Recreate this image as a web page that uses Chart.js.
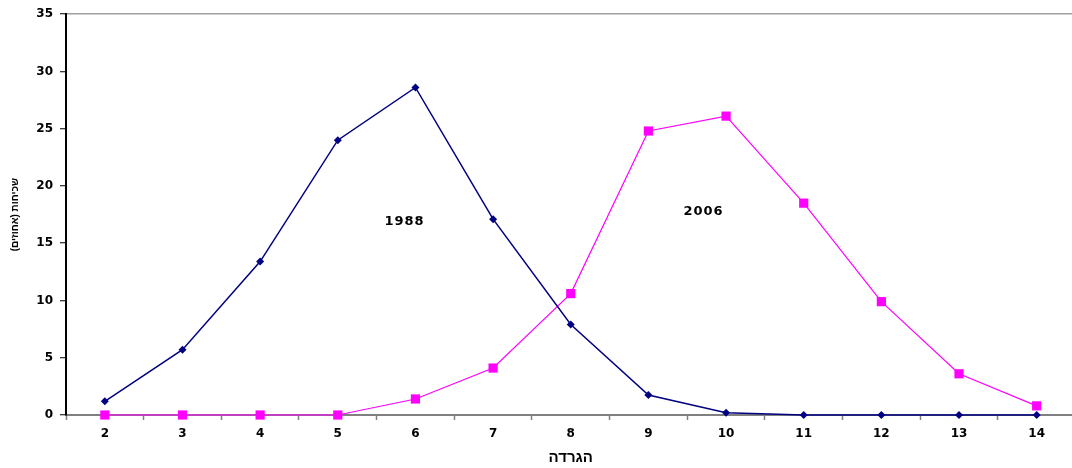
<!DOCTYPE html>
<html>
<head>
<meta charset="utf-8">
<script src="https://cdn.jsdelivr.net/npm/chart.js@4/dist/chart.umd.min.js"></script>
<style>
  html, body { margin: 0; padding: 0; background: #fff; overflow: hidden; }
  #wrap { width: 1082px; height: 468px; position: relative; }
</style>
</head>
<body>
<div id="wrap"><canvas id="c" width="1082" height="468"></canvas></div>
<script>
const categories = ['2','3','4','5','6','7','8','9','10','11','12','13','14'];
const series1988 = [1.2, 5.7, 13.4, 24.0, 28.6, 17.1, 7.9, 1.75, 0.2, 0, 0, 0, 0];
const series2006 = [0, 0, 0, 0, 1.4, 4.1, 10.6, 24.8, 26.1, 18.5, 9.9, 3.6, 0.8];
const yTicks = [0, 5, 10, 15, 20, 25, 30, 35];
const annotationText = ['1988', '2006'];
const annotationCat = [5.86, 9.71];   // position in category units (x values)
const annotationVal = [16.9, 17.8];
const yTitle = 'שכיחות (אחוזים)';
const xTitle = 'הדרגה';

const FONT = "'Liberation Sans', Arial, sans-serif";
const WIDE = "'DejaVu Sans', 'Liberation Sans', sans-serif";

const annotationPlugin = {
  id: 'annots',
  afterDatasetsDraw(chart) {
    const ctx = chart.ctx;
    const xs = chart.scales.x, ys = chart.scales.y;
    ctx.save();
    ctx.font = 'bold 13px ' + WIDE;
    try { ctx.letterSpacing = '1px'; } catch (e) {}
    ctx.fillStyle = '#000';
    ctx.textAlign = 'center';
    ctx.textBaseline = 'middle';
    annotationText.forEach((t, i) => {
      const idx = annotationCat[i] - Number(categories[0]);
      ctx.fillText(t, xs.getPixelForValue(idx), ys.getPixelForValue(annotationVal[i]));
    });
    ctx.restore();
  }
};

new Chart(document.getElementById('c'), {
  type: 'line',
  data: {
    labels: categories,
    datasets: [
      {
        label: '1988',
        data: series1988,
        borderColor: '#000080',
        backgroundColor: '#000080',
        borderWidth: 1.5,
        pointStyle: 'rectRot',
        pointRadius: 4,
        pointBorderWidth: 0,
        tension: 0,
        clip: false
      },
      {
        label: '2006',
        data: series2006,
        borderColor: '#FF00FF',
        backgroundColor: '#FF00FF',
        borderWidth: 1.2,
        pointStyle: 'rect',
        pointRadius: 6.5,
        pointBorderWidth: 0,
        tension: 0,
        clip: false
      }
    ]
  },
  options: {
    responsive: false,
    animation: false,
    layout: { padding: { top: 13, right: 0, bottom: 0, left: 0 } },
    plugins: {
      legend: { display: false },
      tooltip: { enabled: false }
    },
    scales: {
      x: {
        type: 'category',
        offset: true,
        grid: {
          offset: true,
          drawOnChartArea: false,
          drawTicks: true,
          tickLength: 5,
          tickColor: '#808080',
          tickWidth: 1.5
        },
        border: { color: '#808080', width: 2 },
        ticks: {
          color: '#000',
          font: { family: WIDE, size: 12, weight: 'bold' },
          padding: 7,
          maxRotation: 0
        },
        title: {
          display: true,
          text: '\u202D' + xTitle + '\u202C',
          color: '#000',
          font: { family: FONT, size: 15, weight: 'bold' },
          padding: { top: 2, bottom: 1 }
        },
        afterFit(scale) { scale.height = 53; }
      },
      y: {
        min: 0,
        max: 35,
        afterBuildTicks(scale) { scale.ticks = yTicks.map(v => ({ value: v })); },
        grid: {
          drawOnChartArea: true,
          color: (ctx) => (ctx.tick && ctx.tick.value === 35) ? '#a0a0a0' : 'rgba(0,0,0,0)',
          lineWidth: 1.5,
          drawTicks: true,
          tickLength: 6,
          tickColor: '#000',
          tickWidth: 1
        },
        border: { color: '#000', width: 2 },
        ticks: {
          color: '#000',
          font: { family: WIDE, size: 12, weight: 'bold' },
          padding: 7
        },
        title: {
          display: true,
          text: yTitle,
          color: '#000',
          font: { family: FONT, size: 10, weight: 'bold' },
          padding: { top: 9, bottom: 0 }
        },
        afterFit(scale) { scale.width = 66; }
      }
    }
  },
  plugins: [annotationPlugin]
});
</script>
</body>
</html>
